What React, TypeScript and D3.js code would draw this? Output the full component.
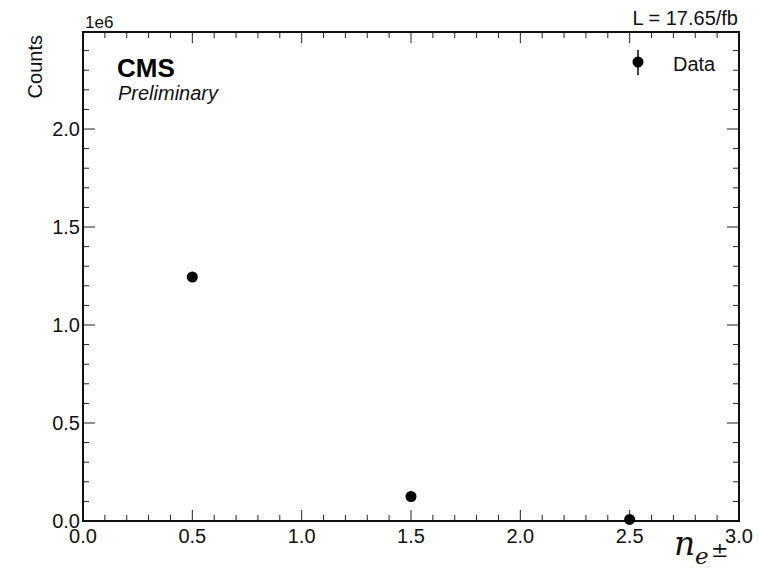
import React, { useEffect, useRef } from 'react';
import * as d3 from 'd3';

// bin centres and counts
const binCenters = [0.5, 1.5, 2.5];
const binCounts = [1245000, 125000, 8000];
const xMajorTicks = [0, 0.5, 1, 1.5, 2, 2.5, 3];
const yMajorTicks = [0, 0.5e6, 1e6, 1.5e6, 2e6];

function App() {
  const ref = useRef<SVGSVGElement | null>(null);

  useEffect(() => {
    const width = 760, height = 569;
    const margin = { top: 32, right: 21, bottom: 48, left: 83 };
    const innerW = width - margin.left - margin.right;
    const innerH = height - margin.top - margin.bottom;

    const svg = d3.select(ref.current);
    svg.selectAll('*').remove();

    let x = d3.scaleLinear().domain([0, 3]).range([0, innerW]);
    let y = d3.scaleLinear().domain([0, 2.495e6]).range([innerH, 0]);

    const g = svg.append('g')
      .attr('transform', `translate(${margin.left},${margin.top})`);

    const font = 'Liberation Sans, Arial, Helvetica, sans-serif';

    // minor ticks every 0.1
    const xMinor = d3.range(0, 30.5, 1).map(d => d / 10).filter(d => !xMajorTicks.includes(d));
    const yMinor = d3.range(0, 25, 1).map(d => d * 1e5).filter(d => y(d) >= 0 && !yMajorTicks.includes(d));

    const tickColor = '#222';
    // bottom + top ticks
    [[xMajorTicks, 11], [xMinor, 6]].forEach(([vals, len]: any) => {
      g.selectAll(null).data(vals).join('line')
        .attr('x1', (d: any) => x(d)).attr('x2', (d: any) => x(d))
        .attr('y1', innerH).attr('y2', innerH - len)
        .attr('stroke', tickColor).attr('stroke-width', 1);
      g.selectAll(null).data(vals).join('line')
        .attr('x1', (d: any) => x(d)).attr('x2', (d: any) => x(d))
        .attr('y1', 0).attr('y2', len)
        .attr('stroke', tickColor).attr('stroke-width', 1);
    });
    // left + right ticks
    [[yMajorTicks, 12], [yMinor, 6]].forEach(([vals, len]: any) => {
      g.selectAll(null).data(vals).join('line')
        .attr('y1', (d: any) => y(d)).attr('y2', (d: any) => y(d))
        .attr('x1', 0).attr('x2', len)
        .attr('stroke', tickColor).attr('stroke-width', 1);
      g.selectAll(null).data(vals).join('line')
        .attr('y1', (d: any) => y(d)).attr('y2', (d: any) => y(d))
        .attr('x1', innerW).attr('x2', innerW - len)
        .attr('stroke', tickColor).attr('stroke-width', 1);
    });

    // frame
    g.append('rect')
      .attr('x', 0).attr('y', 0)
      .attr('width', innerW).attr('height', innerH)
      .attr('fill', 'none').attr('stroke', '#111').attr('stroke-width', 2);

    // tick labels
    g.selectAll(null).data(xMajorTicks).join('text')
      .attr('x', d => x(d)).attr('y', innerH + 22)
      .attr('text-anchor', 'middle')
      .style('font-family', font).style('font-size', '20px').attr('fill', '#111')
      .text(d => d3.format('.1f')(d));
    g.selectAll(null).data(yMajorTicks).join('text')
      .attr('x', -3).attr('y', d => y(d))
      .attr('dy', '0.36em')
      .attr('text-anchor', 'end')
      .style('font-family', font).style('font-size', '20px').attr('fill', '#111')
      .text(d => d3.format('.1f')(d / 1e6));

    // offset text and axis label
    svg.append('text')
      .attr('x', 85).attr('y', 28)
      .style('font-family', font).style('font-size', '17px').attr('fill', '#111')
      .text('1e6');
    svg.append('text')
      .attr('transform', 'translate(42,35) rotate(-90)')
      .attr('text-anchor', 'end')
      .style('font-family', font).style('font-size', '20px').attr('fill', '#111')
      .text('Counts');

    // x label n_{e±}
    const xl = svg.append('text')
      .style('font-family', 'DejaVu Serif, serif').attr('fill', '#111');
    xl.append('tspan').attr('x', 674).attr('y', 555)
      .style('font-size', '33px').style('font-style', 'italic').text('n');
    xl.append('tspan').attr('x', 695).attr('y', 564)
      .style('font-size', '23px').style('font-style', 'italic').text('e');
    xl.append('tspan').attr('x', 711).attr('y', 557)
      .style('font-size', '21px').style('font-weight', '300').text('±');

    // luminosity
    svg.append('text')
      .attr('x', 738).attr('y', 25)
      .attr('text-anchor', 'end')
      .style('font-family', font).style('font-size', '20px').attr('fill', '#111')
      .text('L = 17.65/fb');

    // CMS label
    svg.append('text')
      .attr('x', 117).attr('y', 77)
      .style('font-family', font).style('font-size', '26px').style('font-weight', 'bold').attr('fill', '#000')
      .text('CMS');
    svg.append('text')
      .attr('x', 118).attr('y', 100)
      .style('font-family', font).style('font-size', '20px').style('font-style', 'italic').attr('fill', '#111')
      .text('Preliminary');

    // data points with sqrt(N) error bars
    const pts = binCenters.map((c, i) => ({ x: c, y: binCounts[i], e: Math.sqrt(binCounts[i]) }));
    g.selectAll(null).data(pts).join('line')
      .attr('x1', d => x(d.x)).attr('x2', d => x(d.x))
      .attr('y1', d => y(d.y - d.e)).attr('y2', d => y(d.y + d.e))
      .attr('stroke', '#000').attr('stroke-width', 1.5);
    g.selectAll(null).data(pts).join('circle')
      .attr('cx', d => x(d.x)).attr('cy', d => y(d.y))
      .attr('r', 5.5).attr('fill', '#000');

    // legend
    svg.append('line')
      .attr('x1', 638).attr('x2', 638).attr('y1', 50).attr('y2', 75)
      .attr('stroke', '#000').attr('stroke-width', 1.5);
    svg.append('circle').attr('cx', 638).attr('cy', 62).attr('r', 5.5).attr('fill', '#000');
    svg.append('text')
      .attr('x', 673).attr('y', 71)
      .style('font-family', font).style('font-size', '20px').attr('fill', '#111')
      .text('Data');
  });

  return (
    <svg ref={ref} width={760} height={569}
      style={{ position: 'absolute', left: 0, top: 0, background: '#fff' }} />
  );
}

export default App;
